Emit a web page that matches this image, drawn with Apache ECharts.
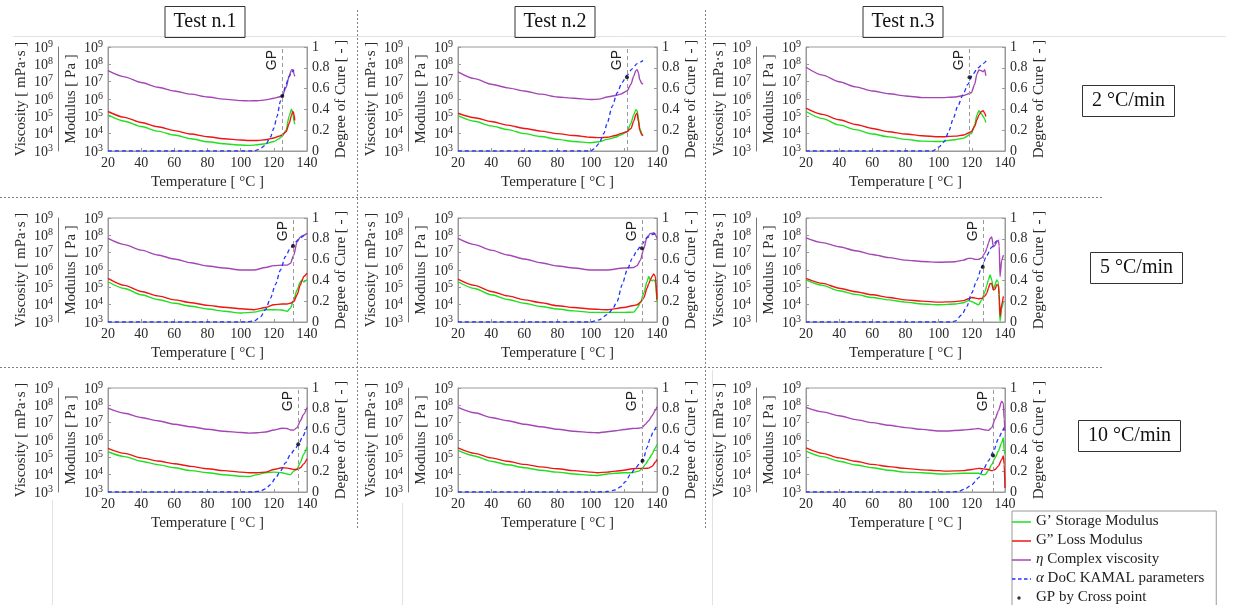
<!DOCTYPE html>
<html>
<head>
<meta charset="utf-8">
<script src="https://cdn.jsdelivr.net/npm/echarts@6/dist/echarts.min.js"></script>
<style>html,body{margin:0;padding:0;background:#fff;}#c{width:1233px;height:605px;}</style>
</head>
<body>
<div id="c"></div>
<script>
// ---------- DATA ----------
// Row 1: 2 °C/min ; Row 2: 5 °C/min ; Row 3: 10 °C/min ; columns: Test n.1..3
const tests = ['Test n.1', 'Test n.2', 'Test n.3'];
const rates = ['2 °C/min', '5 °C/min', '10 °C/min'];
const xTicks = [20, 40, 60, 80, 100, 120, 140];

// Panel 1 (2 °C/min, Test n.1)
const t1   = [20,30,40,50,60,70,80,90,100,105,110,115,120,123,125,127.4,129.3,130.7,131.5,132.2,132.6];
const gs1  = [1.2e5,5.2e4,2.6e4,1.4e4,8.3e3,5.1e3,3.4e3,2.6e3,2.2e3,2.1e3,2.3e3,2.6e3,3.5e3,5.0e3,7.2e3,1.6e4,1.1e5,2.6e5,1.5e5,5.0e4,3.6e4];
const gl1  = [1.9e5,8.7e4,4.4e4,2.5e4,1.5e4,9.5e3,6.6e3,5.1e3,4.3e3,4.0e3,4.0e3,4.5e3,5.6e3,7.1e3,8.3e3,1.3e4,4.0e4,1.2e5,1.9e5,1.3e5,5.8e4];
const eta1 = [4.3e7,1.9e7,8.9e6,4.8e6,2.9e6,1.9e6,1.3e6,9.8e5,8.1e5,7.8e5,7.9e5,8.9e5,1.1e6,1.3e6,1.5e6,4.6e6,2.2e7,4.9e7,4.9e7,2.8e7,2.0e7];
const dt1  = [20,108,110,112,114.8,118.1,120,121.9,124,125.1,127,129,130.9,132.2];
const dc1  = [0,0,0.01,0.025,0.055,0.137,0.22,0.33,0.48,0.53,0.62,0.71,0.76,0.78];
const gp1  = [125.1, 0.53];

// Panel 2 (2 °C/min, Test n.2)
const t2   = [20,30,40,50,60,70,80,90,100,105,110,115,118,121.9,124.3,125.9,127.3,128.0,128.8,129.6,130.9,131.6];
const gs2  = [1.1e5,5.2e4,2.8e4,1.7e4,1.0e4,6.8e3,4.7e3,3.5e3,3.0e3,3.4e3,4.7e3,6.2e3,8.3e3,1.3e4,4.0e4,1.2e5,2.4e5,2.1e5,7.9e4,2.0e4,9.5e3,8.9e3];
const gl2  = [1.5e5,8.3e4,5.0e4,3.1e4,2.0e4,1.4e4,1.0e4,7.8e3,6.2e3,5.9e3,6.2e3,7.9e3,1.0e4,1.3e4,2.0e4,5.0e4,1.3e5,1.5e5,5.0e4,1.6e4,8.3e3,7.6e3];
const eta2 = [3.7e7,1.5e7,7.1e6,4.4e6,2.9e6,1.9e6,1.3e6,1.1e6,9.3e5,9.8e5,1.3e6,1.6e6,1.9e6,2.9e6,7.1e6,2.0e7,4.5e7,4.9e7,3.2e7,1.3e7,7.8e6,7.1e6];
const dt2  = [20,100,102,105,108,110,113,116,119,122,125,128,131.6];
const dc2  = [0,0,0.02,0.07,0.17,0.27,0.43,0.56,0.66,0.73,0.79,0.84,0.87];
const gp2  = [121.9, 0.71];

// Panel 3 (2 °C/min, Test n.3)
const t3   = [20,30,40,50,60,70,80,90,100,110,115,119.7,121.7,123.1,124.3,125.8,126.8,127.8,128.4];
const gs3  = [1.9e5,7.4e4,3.2e4,1.7e4,9.5e3,6.5e3,4.7e3,3.7e3,3.5e3,4.5e3,5.5e3,1.0e4,3.2e4,1.2e5,2.1e5,1.4e5,9.8e4,6.9e4,4.4e4];
const gl3  = [3.0e5,1.3e5,6.3e4,3.4e4,2.0e4,1.3e4,9.5e3,7.6e3,6.6e3,7.2e3,8.3e3,1.3e4,2.6e4,6.3e4,1.2e5,1.9e5,2.1e5,1.5e5,9.8e4];
const eta3 = [6.8e7,2.4e7,9.8e6,5.0e6,2.9e6,2.0e6,1.5e6,1.2e6,1.2e6,1.3e6,1.6e6,2.3e6,7.1e6,2.8e7,4.7e7,4.3e7,3.7e7,4.9e7,2.2e7];
const dt3  = [20,96.3,100.3,103.4,106.4,108.5,111.5,114.6,117.6,120.7,123.7,126.8,128.8];
const dc3  = [0,0,0.04,0.09,0.2,0.3,0.43,0.54,0.64,0.74,0.8,0.84,0.87];
const gp3  = [118.6, 0.71];

// Panel 4 (5 °C/min, Test n.1)
const t4   = [20,30,40,50,60,70,80,90,100,108,115,120,125,128,130,132,134,136,137,138,140];
const gs4  = [2.1e5,8.5e4,3.7e4,2.0e4,1.2e4,8.1e3,5.6e3,4.2e3,3.3e3,3.7e3,5.1e3,5.1e3,4.9e3,4.1e3,6.3e3,1.9e4,7.1e4,2.1e5,2.7e5,2.0e5,2.7e5];
const gl4  = [3.3e5,1.3e5,5.8e4,3.2e4,1.9e4,1.3e4,9.1e3,7.1e3,5.8e3,5.1e3,6.9e3,9.8e3,1.1e4,1.1e4,1.2e4,1.5e4,3.7e4,1.4e5,2.4e5,4.2e5,6.5e5];
const eta4 = [6.6e7,2.9e7,1.4e7,7.4e6,4.3e6,2.6e6,1.7e6,1.3e6,1.0e6,1.0e6,1.4e6,1.8e6,1.9e6,1.9e6,2.4e6,7.2e6,4.2e7,8.1e7,9.1e7,1.0e8,1.3e8];
const dt4  = [20,104,108,112,115,118,121,124,127,130,133,136,139,140];
const dc4  = [0,0,0.01,0.05,0.12,0.23,0.36,0.5,0.63,0.71,0.77,0.81,0.84,0.85];
const gp4  = [131.6, 0.73];

// Panel 5 (5 °C/min, Test n.2)
const t5   = [20,30,40,50,60,70,80,90,100,110,120,126,128,130,132,134,135,136,137,138,139,140];
const gs5  = [2.1e5,8.5e4,3.7e4,2.0e4,1.2e4,7.9e3,5.6e3,4.4e3,3.6e3,3.6e3,3.6e3,3.7e3,6.3e3,1.3e4,4.6e4,2.1e5,4.2e5,2.7e5,2.4e5,2.7e5,2.1e5,1.5e4];
const gl5  = [3.0e5,1.3e5,5.8e4,3.2e4,1.9e4,1.3e4,8.7e3,6.8e3,5.6e3,5.1e3,6.9e3,8.9e3,9.8e3,1.4e4,2.4e4,8.9e4,1.6e5,2.7e5,4.2e5,5.9e5,4.2e5,2.0e4];
const eta5 = [6.6e7,2.9e7,1.4e7,7.4e6,4.3e6,2.6e6,1.7e6,1.3e6,1.0e6,1.0e6,1.3e6,1.4e6,1.8e6,3.7e6,1.7e7,8.1e7,1.0e8,1.3e8,1.3e8,1.4e8,1.1e8,6.6e7];
const dt5  = [20,100,105,110,113,116,119,122,125,128,131,134,137,140];
const dc5  = [0,0,0.02,0.07,0.12,0.2,0.36,0.5,0.61,0.69,0.75,0.81,0.84,0.86];
const gp5  = [130.9, 0.71];

// Panel 6 (5 °C/min, Test n.3)
const t6   = [20,30,40,50,60,70,80,90,100,110,115,118,120,122,124,126,128,129,130,131,132,133,134,135,136,136.5,137,138,139];
const gs6  = [2.7e5,1.3e5,6.3e4,3.9e4,2.6e4,1.9e4,1.4e4,1.1e4,9.8e3,1.1e4,1.3e4,1.7e4,1.5e4,1.2e4,9.8e3,1.9e4,5.8e4,1.3e5,2.7e5,5.1e5,2.7e5,7.1e4,1.4e5,2.7e5,2.0e5,1.6e4,1.1e3,6.3e3,1.5e4];
const gl6  = [3.3e5,1.7e5,8.9e4,5.6e4,3.7e4,2.6e4,1.9e4,1.6e4,1.4e4,1.5e4,1.7e4,2.2e4,2.6e4,2.4e4,2.2e4,2.3e4,3.2e4,4.6e4,8.9e4,1.7e5,1.6e5,7.1e4,7.9e4,1.4e5,1.3e5,4.0e4,2.1e3,9.8e3,3.0e4];
const eta6 = [7.2e7,3.8e7,2.2e7,1.3e7,7.9e6,5.2e6,3.7e6,3.1e6,2.8e6,3.0e6,3.7e6,4.7e6,4.7e6,4.1e6,4.1e6,5.0e6,1.0e7,1.7e7,3.5e7,6.6e7,8.1e7,2.2e7,2.7e7,4.2e7,5.2e7,2.5e7,4.2e5,3.7e6,7.2e6];
const dt6  = [20,108,110,114,117,120,123,126,129,132,135,137];
const dc6  = [0,0,0.01,0.07,0.15,0.28,0.4,0.53,0.64,0.72,0.78,0.8];
const gp6  = [126.6, 0.53];

// Panel 7 (10 °C/min, Test n.1)
const t7   = [20,30,40,50,60,70,80,90,100,105,110,115,120,125,128,130,132,134,136,138,140];
const gs7  = [2.1e5,1.1e5,6.0e4,3.8e4,2.5e4,1.7e4,1.3e4,9.8e3,8.1e3,7.9e3,1.0e4,1.3e4,1.4e4,1.3e4,1.1e4,1.0e4,1.6e4,2.2e4,5.0e4,1.5e5,3.9e5];
const gl7  = [3.3e5,1.7e5,9.3e4,6.2e4,4.3e4,3.0e4,2.2e4,1.7e4,1.4e4,1.3e4,1.3e4,1.4e4,2.0e4,2.5e4,2.4e4,2.2e4,2.0e4,2.0e4,2.5e4,4.2e4,8.3e4];
const eta7 = [6.9e7,3.5e7,2.0e7,1.3e7,8.1e6,5.8e6,4.2e6,3.2e6,2.7e6,2.5e6,2.6e6,2.9e6,3.8e6,4.8e6,4.6e6,3.8e6,3.7e6,5.2e6,1.3e7,3.1e7,7.6e7];
const dt7  = [20,108,112,115,118,121,124,127,130,133,135,137,140];
const dc7  = [0,0,0.01,0.03,0.07,0.135,0.2,0.28,0.36,0.42,0.46,0.52,0.63];
const gp7  = [134.7, 0.46];

// Panel 8 (10 °C/min, Test n.2)
const t8   = [20,30,40,50,60,70,80,90,100,104,110,115,120,125,129,131,133,135,137,139,140];
const gs8  = [2.5e5,1.2e5,6.0e4,3.7e4,2.5e4,1.8e4,1.4e4,1.1e4,9.3e3,8.9e3,1.1e4,1.2e4,1.3e4,1.3e4,1.6e4,2.2e4,3.9e4,7.6e4,1.5e5,3.5e5,5.6e5];
const gl8  = [3.5e5,1.7e5,9.3e4,5.9e4,3.9e4,2.8e4,2.2e4,1.7e4,1.4e4,1.3e4,1.4e4,1.6e4,1.8e4,2.2e4,2.3e4,2.3e4,2.3e4,2.4e4,3.0e4,5.2e4,7.6e4];
const eta8 = [7.6e7,3.7e7,2.0e7,1.3e7,8.1e6,5.8e6,4.2e6,3.2e6,2.7e6,2.6e6,3.0e6,3.4e6,4.0e6,4.6e6,4.8e6,5.2e6,8.1e6,1.3e7,2.5e7,5.2e7,8.3e7];
const dt8  = [20,104,110,115,118,121,124,127,130,132,134,136,138,140];
const dc8  = [0,0,0.005,0.02,0.05,0.1,0.17,0.23,0.28,0.33,0.43,0.52,0.59,0.64];
const gp8  = [131.3, 0.3];

// Panel 9 (10 °C/min, Test n.3)
const t9   = [20,30,40,50,60,70,80,90,100,104,115,120,124,126,128,130,132,134,136,138,139,139.5,140];
const gs9  = [2.3e5,1.1e5,6.0e4,3.6e4,2.5e4,1.8e4,1.4e4,1.3e4,1.1e4,1.1e4,1.2e4,1.2e4,1.2e4,1.0e4,1.0e4,1.7e4,3.9e4,9.3e4,2.3e5,7.1e5,1.3e6,2.3e5,1.5e5];
const gl9  = [3.5e5,1.7e5,9.3e4,5.9e4,3.9e4,2.9e4,2.3e4,1.9e4,1.7e4,1.6e4,1.7e4,2.0e4,2.3e4,2.2e4,2.1e4,2.0e4,1.7e4,2.0e4,3.1e4,7.6e4,1.2e5,4.0e4,1.7e3];
const eta9 = [7.6e7,4.2e7,2.5e7,1.5e7,1.0e7,7.1e6,5.2e6,4.1e6,3.3e6,3.3e6,3.8e6,4.2e6,4.6e6,4.2e6,3.8e6,3.6e6,5.2e6,1.6e7,4.8e7,1.7e8,1.3e8,1.6e7,3.3e6];
const dt9  = [20,108,112,116,120,124,127,130,133,136,138,139.5];
const dc9  = [0,0,0.005,0.03,0.07,0.135,0.22,0.3,0.39,0.51,0.57,0.62];
const gp9  = [132.8, 0.35];

// ---------- LAYOUT / STYLE ----------
const SERIF = '"Liberation Serif", "DejaVu Serif", serif';
const SANS = '"Liberation Sans", "DejaVu Sans", sans-serif';
const TXT = '#2a2a2a';
const AX = '#9a9a9a';
const colLeft = [108, 458, 806];
const rowTop = [47, 218, 388];
const W = 199, H = 104;
const N_GS = 'G’ Storage Modulus', N_GL = 'G” Loss Modulus', N_ETA = 'η Complex viscosity',
      N_DOC = 'α DoC KAMAL parameters', N_GP = 'GP by Cross point';
const C_GS = '#1ee01e', C_GL = '#f01414', C_ETA = '#a447b4', C_DOC = '#1f35ff';

const panels = [
  {t:t1,gs:gs1,gl:gl1,eta:eta1,dt:dt1,dc:dc1,gp:gp1},
  {t:t2,gs:gs2,gl:gl2,eta:eta2,dt:dt2,dc:dc2,gp:gp2},
  {t:t3,gs:gs3,gl:gl3,eta:eta3,dt:dt3,dc:dc3,gp:gp3},
  {t:t4,gs:gs4,gl:gl4,eta:eta4,dt:dt4,dc:dc4,gp:gp4},
  {t:t5,gs:gs5,gl:gl5,eta:eta5,dt:dt5,dc:dc5,gp:gp5},
  {t:t6,gs:gs6,gl:gl6,eta:eta6,dt:dt6,dc:dc6,gp:gp6},
  {t:t7,gs:gs7,gl:gl7,eta:eta7,dt:dt7,dc:dc7,gp:gp7},
  {t:t8,gs:gs8,gl:gl8,eta:eta8,dt:dt8,dc:dc8,gp:gp8},
  {t:t9,gs:gs9,gl:gl9,eta:eta9,dt:dt9,dc:dc9,gp:gp9}
];
const zip = (a, b) => a.map((x, i) => [x, b[i]]);

const labelStyle = {fontFamily: SERIF, fontSize: 14, color: TXT};
const nameStyle = {fontFamily: SERIF, fontSize: 15, color: TXT};
const powLabel = {
  ...labelStyle, margin: 5,
  formatter: v => '{b|10}{s|' + Math.round(Math.log10(v)) + '}',
  rich: {
    b: {fontFamily: SERIF, fontSize: 14, color: TXT, lineHeight: 16, verticalAlign: 'bottom'},
    s: {fontFamily: SERIF, fontSize: 10, color: TXT, lineHeight: 16, verticalAlign: 'top', padding: [0, 0, 6, 0]}
  }
};

const grid = [], xAxis = [], yAxis = [], series = [];
panels.forEach((p, i) => {
  const r = Math.floor(i / 3), c = i % 3;
  grid.push({left: colLeft[c], top: rowTop[r], width: W, height: H, show: true,
             borderColor: AX, borderWidth: 1, containLabel: false});
  xAxis.push({gridIndex: i, type: 'value', min: 20, max: 140, interval: 20,
    name: 'Temperature [ °C ]', nameLocation: 'middle', nameGap: 24, nameTextStyle: nameStyle,
    axisLine: {show: true, lineStyle: {color: AX}},
    axisTick: {show: true, inside: true, length: 3, lineStyle: {color: AX}},
    axisLabel: {...labelStyle, margin: 5, formatter: v => xTicks.includes(v) ? String(v) : ''},
    splitLine: {show: false}});
  const yi = yAxis.length;
  // Modulus axis
  yAxis.push({gridIndex: i, type: 'log', logBase: 10, min: 1e3, max: 1e9, splitNumber: 6, position: 'left',
    name: 'Modulus [ Pa ]', nameLocation: 'middle', nameGap: 29, nameTextStyle: nameStyle,
    axisLine: {show: true, lineStyle: {color: AX}},
    axisTick: {show: true, inside: true, length: 3, lineStyle: {color: AX}},
    axisLabel: powLabel, splitLine: {show: false}, minorTick: {show: false}});
  // Viscosity axis
  yAxis.push({gridIndex: i, type: 'log', logBase: 10, min: 1e3, max: 1e9, splitNumber: 6, position: 'left', offset: 50,
    name: 'Viscosity [ mPa·s ]', nameLocation: 'middle', nameGap: 29, nameTextStyle: nameStyle,
    axisLine: {show: true, lineStyle: {color: '#777'}},
    axisTick: {show: false},
    axisLabel: powLabel, splitLine: {show: false}});
  // Degree of cure axis
  yAxis.push({gridIndex: i, type: 'value', min: 0, max: 1, interval: 0.2, position: 'right',
    name: 'Degree of Cure [ - ]', nameLocation: 'middle', nameGap: 26, nameTextStyle: nameStyle,
    axisLine: {show: true, lineStyle: {color: AX}},
    axisTick: {show: true, inside: true, length: 3, lineStyle: {color: AX}},
    axisLabel: {...labelStyle, margin: 5}, splitLine: {show: false}});

  const common = {type: 'line', xAxisIndex: i, symbol: 'none', smooth: 0.25, smoothMonotone: 'x', silent: true, animation: false};
  series.push({...common, name: N_ETA, yAxisIndex: yi + 1, data: zip(p.t, p.eta), lineStyle: {color: C_ETA, width: 1.4}, itemStyle: {color: C_ETA}});
  series.push({...common, name: N_GS, yAxisIndex: yi, data: zip(p.t, p.gs), lineStyle: {color: C_GS, width: 1.4}, itemStyle: {color: C_GS}});
  series.push({...common, name: N_GL, yAxisIndex: yi, data: zip(p.t, p.gl), lineStyle: {color: C_GL, width: 1.4}, itemStyle: {color: C_GL}});
  series.push({...common, name: N_DOC, yAxisIndex: yi + 2, data: zip(p.dt, p.dc), lineStyle: {color: C_DOC, width: 1.3, type: [4, 3]}, itemStyle: {color: C_DOC}});
  series.push({type: 'scatter', name: N_GP, xAxisIndex: i, yAxisIndex: yi + 2, silent: true, animation: false,
    symbol: 'circle', symbolSize: 4, itemStyle: {color: '#000'}, data: [p.gp], z: 5,
    markLine: {silent: true, symbol: ['none', 'none'], animation: false,
      lineStyle: {color: '#9a9a9a', type: [4, 3], width: 1},
      label: {show: true, formatter: 'GP', position: 'insideEndTop', distance: 3,
              fontFamily: SANS, fontSize: 14, color: '#222'},
      data: [{xAxis: p.gp[0]}]}});
});

const titles = [];
tests.forEach((t, c) => titles.push({text: t, left: colLeft[c] + W / 2 - 43, top: 6,
  padding: [6, 9, 6, 9], borderColor: '#333', borderWidth: 1,
  textStyle: {fontFamily: SERIF, fontSize: 20, fontWeight: 'normal', color: '#111'}}));
const rateBox = [[1082, 85], [1090, 252], [1078, 420]];
rates.forEach((t, r) => titles.push({text: t, left: rateBox[r][0], top: rateBox[r][1],
  padding: [6, 10, 6, 10], borderColor: '#333', borderWidth: 1,
  textStyle: {fontFamily: SERIF, fontSize: 20, fontWeight: 'normal', color: '#111'}}));

const svgIcon = body => 'image://data:image/svg+xml;utf8,' + encodeURIComponent(
  '<svg xmlns="http://www.w3.org/2000/svg" width="19" height="12">' + body + '</svg>');
const lineIcon = (col, dashed) => svgIcon('<line x1="0" y1="6.5" x2="19" y2="6.5" stroke="' + col +
  '" stroke-width="1.5"' + (dashed ? ' stroke-dasharray="3.5,2.5"' : '') + '/>');
const dotIcon = svgIcon('<circle cx="7" cy="6.5" r="1.7" fill="#000"/>');

const dash = {stroke: '#808080', lineWidth: 1, lineDash: [2, 2]};
const faint = {stroke: '#e2e2e2', lineWidth: 1};
const graphic = [
  {type: 'line', shape: {x1: 0, y1: 197.5, x2: 1103, y2: 197.5}, style: dash, silent: true},
  {type: 'line', shape: {x1: 0, y1: 367.5, x2: 1103, y2: 367.5}, style: dash, silent: true},
  {type: 'line', shape: {x1: 357.5, y1: 10, x2: 357.5, y2: 530}, style: dash, silent: true},
  {type: 'line', shape: {x1: 705.5, y1: 10, x2: 705.5, y2: 530}, style: dash, silent: true},
  {type: 'line', shape: {x1: 13, y1: 36.5, x2: 1226, y2: 36.5}, style: faint, silent: true, z: -1},
  {type: 'line', shape: {x1: 52.5, y1: 500, x2: 52.5, y2: 605}, style: faint, silent: true, z: -1},
  {type: 'line', shape: {x1: 402.5, y1: 503, x2: 402.5, y2: 605}, style: faint, silent: true, z: -1},
  {type: 'line', shape: {x1: 712.5, y1: 370, x2: 712.5, y2: 605}, style: faint, silent: true, z: -1}
];

const chart = echarts.init(document.getElementById('c'), null, {renderer: 'canvas'});
chart.setOption({
  backgroundColor: '#fff',
  animation: false,
  title: titles,
  grid, xAxis, yAxis, series, graphic,
  legend: {
    orient: 'vertical', left: 1012, top: 511, height: 120, itemWidth: 19, itemHeight: 12, itemGap: 4,
    padding: [3, 12, 3, 0], borderColor: '#999', borderWidth: 1, backgroundColor: '#fff',
    selectedMode: false,
    textStyle: {fontFamily: SERIF, fontSize: 15, color: '#222',
      rich: {i: {fontFamily: SERIF, fontSize: 15, fontStyle: 'italic', color: '#222'}}},
    formatter: n => (n.startsWith('η') || n.startsWith('α')) ? '{i|' + n[0] + '}' + n.slice(1) : n,
    data: [
      {name: N_GS, icon: lineIcon(C_GS, false)},
      {name: N_GL, icon: lineIcon(C_GL, false)},
      {name: N_ETA, icon: lineIcon(C_ETA, false)},
      {name: N_DOC, icon: lineIcon(C_DOC, true)},
      {name: N_GP, icon: dotIcon}
    ]
  }
});
</script>
</body>
</html>
